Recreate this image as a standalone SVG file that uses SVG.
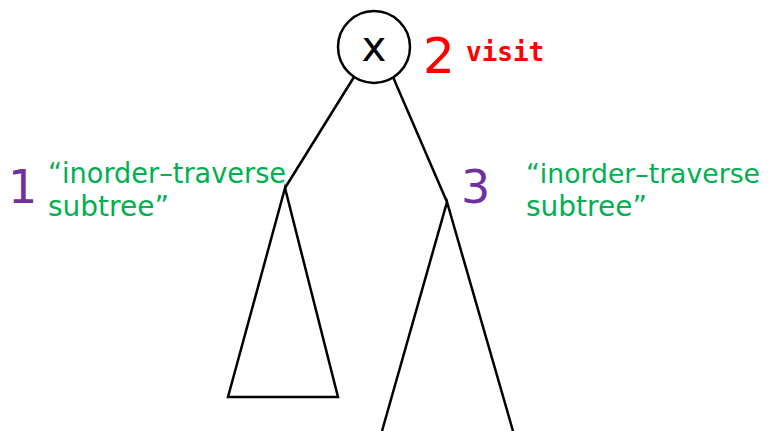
<svg xmlns="http://www.w3.org/2000/svg" width="769" height="431" viewBox="0 0 769 431">
<style>
.ln{stroke:#000;stroke-width:2.5;fill:none;stroke-linejoin:miter}
.g{font-family:"DejaVu Sans",sans-serif;font-size:28px;fill:#00B050}
.g2{font-family:"DejaVu Sans",sans-serif;font-size:27px;fill:#00B050}
.p{font-family:"DejaVu Sans",sans-serif;font-size:46px;fill:#7030A0}
</style>
<rect width="769" height="431" fill="#fff"/>
<g id="connectors">
<line class="ln" x1="354" y1="77" x2="285" y2="188"/>
<line class="ln" x1="393" y1="77" x2="447" y2="202"/>
</g>
<g id="node-x">
<circle class="ln" cx="374" cy="47" r="36"/>
<text x="374" y="61" text-anchor="middle" font-family="DejaVu Sans,sans-serif" font-size="42">x</text>
</g>
<g id="label-visit">
<text x="423" y="73" font-family="DejaVu Sans,sans-serif" font-size="50" fill="#FF0000">2</text>
<text x="466" y="61" font-family="DejaVu Sans Mono,monospace" font-weight="bold" font-size="26" fill="#FF0000">visit</text>
</g>
<g id="left-subtree">
<polygon class="ln" points="285,188 228,397 338,397"/>
</g>
<g id="right-subtree">
<polyline class="ln" points="382,431 447,202 513,431"/>
</g>
<g id="label-left">
<text class="p" x="8" y="203">1</text>
<text class="g" x="48" y="183" textLength="238" lengthAdjust="spacingAndGlyphs">“inorder–traverse</text>
<text class="g" x="48" y="216">subtree”</text>
</g>
<g id="label-right">
<text class="p" x="461" y="203">3</text>
<text class="g2" x="526" y="183" textLength="234" lengthAdjust="spacingAndGlyphs">“inorder–traverse</text>
<text class="g" x="526" y="216">subtree”</text>
</g>
</svg>
